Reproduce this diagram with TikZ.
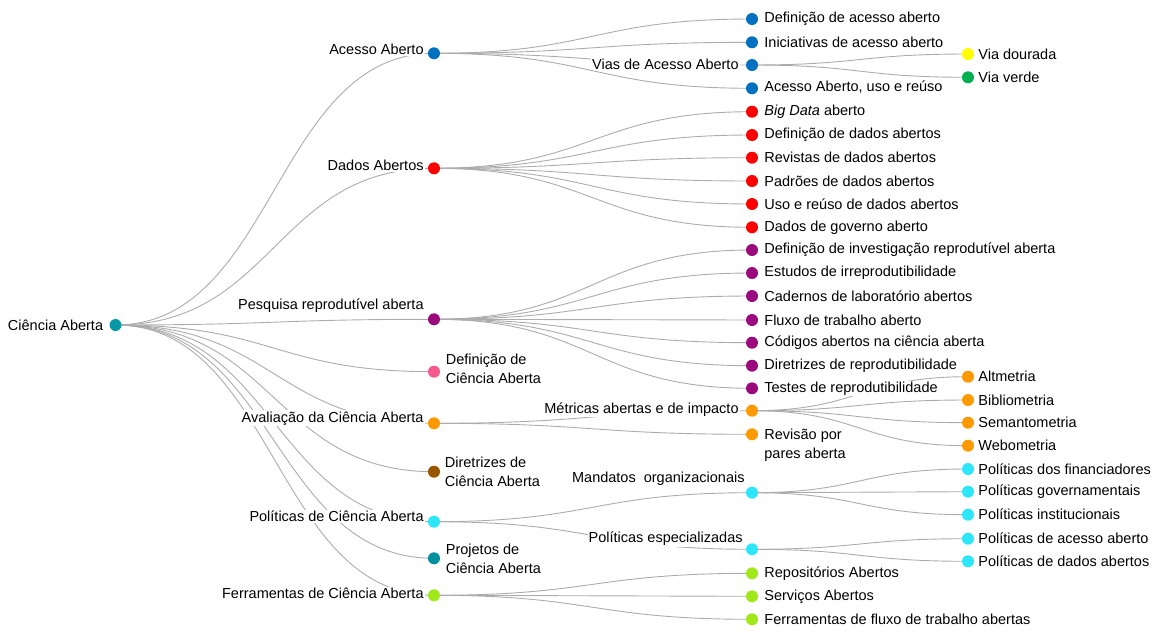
\documentclass[tikz,border=0pt]{standalone}
\usepackage{fontspec}
\setmainfont{Liberation Sans}
\usetikzlibrary{positioning,calc,backgrounds}

\definecolor{cRaiz}{HTML}{0A97A5}
\definecolor{cAcesso}{HTML}{0070C0}
\definecolor{cDados}{HTML}{FF0000}
\definecolor{cPesq}{HTML}{9B0A7D}
\definecolor{cDef}{HTML}{F5588A}
\definecolor{cAval}{HTML}{FF9900}
\definecolor{cDir}{HTML}{9A5500}
\definecolor{cPol}{HTML}{2EE6FA}
\definecolor{cProj}{HTML}{00909F}
\definecolor{cFerr}{HTML}{A0E81A}
\definecolor{cOuro}{HTML}{FFFF00}
\definecolor{cVerde}{HTML}{00B050}

\begin{document}
\begin{tikzpicture}[x=1pt, y=-1pt,
    ponto/.style = {circle, minimum size=12pt, inner sep=0pt},
    texto/.style = {fill=white, inner sep=1pt, align=left, font=\fontsize{14.5}{19}\selectfont},
    ramo/.style = {gray!65, line width=0.9pt,
        to path={let \p1=(\tikztostart), \p2=(\tikztotarget), \n1={0.5*(\x2-\x1)} in
            .. controls ([xshift=\n1]\tikztostart) and ([xshift=-\n1]\tikztotarget) .. (\tikztotarget)}}]
    \useasboundingbox (0,0) rectangle (1160,630);

    % raiz
    \node[ponto, fill=cRaiz] (0) at (115.5,325) {};
    \node[texto, left=5pt of 0] (t0) {Ciência Aberta};

    % primeiro nivel
    \node[ponto, fill=cAcesso] (1) at (434,53.3) {};
    \node[ponto, fill=cDados] (2) at (434,168.3) {};
    \node[ponto, fill=cPesq] (3) at (434,319.3) {};
    \node[ponto, fill=cDef] (4) at (434,371.7) {};
    \node[ponto, fill=cAval] (5) at (434,423.3) {};
    \node[ponto, fill=cDir] (6) at (434,471.7) {};
    \node[ponto, fill=cPol] (7) at (434,521.7) {};
    \node[ponto, fill=cProj] (8) at (434,558.3) {};
    \node[ponto, fill=cFerr] (9) at (434,595.3) {};

    \node[texto, left=3pt of 1, yshift=4pt] (t1) {Acesso Aberto};
    \node[texto, left=3pt of 2, yshift=2.5pt] (t2) {Dados Abertos};
    \node[texto, left=3pt of 3, yshift=14pt] (t3) {Pesquisa reprodutível aberta};
    \node[texto, right=4.5pt of 4, yshift=3pt] (t4) {Definição de\\Ciência Aberta};
    \node[texto, left=3pt of 5, yshift=5pt] (t5) {Avaliação da Ciência Aberta};
    \node[texto, right=3.5pt of 6] (t6) {Diretrizes de\\Ciência Aberta};
    \node[texto, left=3pt of 7, yshift=5pt] (t7) {Políticas de Ciência Aberta};
    \node[texto, right=4.5pt of 8, yshift=-1pt] (t8) {Projetos de\\Ciência Aberta};
    \node[texto, left=3pt of 9, yshift=2pt] (t9) {Ferramentas de Ciência Aberta};

    % acesso aberto
    \node[ponto, fill=cAcesso] (11) at (752,19) {};
    \node[ponto, fill=cAcesso] (12) at (752,42.3) {};
    \node[ponto, fill=cAcesso] (13) at (752,65) {};
    \node[ponto, fill=cAcesso] (14) at (752,88.3) {};
    \node[ponto, fill=cOuro] (131) at (968,54) {};
    \node[ponto, fill=cVerde] (132) at (968,77.3) {};

    \node[texto, right=5pt of 11] (t11) {Definição de acesso aberto};
    \node[texto, right=5pt of 12] (t12) {Iniciativas de acesso aberto};
    \node[texto, left=6pt of 13, yshift=1pt] (t13) {Vias de Acesso Aberto};
    \node[texto, right=5pt of 14, yshift=1.5pt] (t14) {Acesso Aberto, uso e reúso};
    \node[texto, right=3pt of 131] (t131) {Via dourada};
    \node[texto, right=3pt of 132] (t132) {Via verde};

    % dados abertos
    \node[ponto, fill=cDados] (21) at (752,111.7) {};
    \node[ponto, fill=cDados] (22) at (752,135) {};
    \node[ponto, fill=cDados] (23) at (752,157.7) {};
    \node[ponto, fill=cDados] (24) at (752,181) {};
    \node[ponto, fill=cDados] (25) at (752,204) {};
    \node[ponto, fill=cDados] (26) at (752,227.3) {};

    \node[texto, right=5pt of 21] (t21) {\textit{Big Data} aberto};
    \node[texto, right=5pt of 22] (t22) {Definição de dados abertos};
    \node[texto, right=5pt of 23] (t23) {Revistas de dados abertos};
    \node[texto, right=5pt of 24] (t24) {Padrões de dados abertos};
    \node[texto, right=5pt of 25] (t25) {Uso e reúso de dados abertos};
    \node[texto, right=5pt of 26] (t26) {Dados de governo aberto};

    % pesquisa reprodutivel
    \node[ponto, fill=cPesq] (31) at (752,250) {};
    \node[ponto, fill=cPesq] (32) at (752,273) {};
    \node[ponto, fill=cPesq] (33) at (752,296) {};
    \node[ponto, fill=cPesq] (34) at (752,320) {};
    \node[ponto, fill=cPesq] (35) at (752,342.7) {};
    \node[ponto, fill=cPesq] (36) at (752,365.7) {};
    \node[ponto, fill=cPesq] (37) at (752,388.3) {};

    \node[texto, right=5pt of 31] (t31) {Definição de investigação reprodutível aberta};
    \node[texto, right=5pt of 32] (t32) {Estudos de irreprodutibilidade};
    \node[texto, right=5pt of 33] (t33) {Cadernos de laboratório abertos};
    \node[texto, right=5pt of 34] (t34) {Fluxo de trabalho aberto};
    \node[texto, right=5pt of 35] (t35) {Códigos abertos na ciência aberta};
    \node[texto, right=5pt of 36] (t36) {Diretrizes de reprodutibilidade};
    \node[texto, right=5pt of 37] (t37) {Testes de reprodutibilidade};

    % avaliacao
    \node[ponto, fill=cAval] (51) at (752,410.7) {};
    \node[ponto, fill=cAval] (52) at (752,434.3) {};
    \node[ponto, fill=cAval] (511) at (968,376.7) {};
    \node[ponto, fill=cAval] (512) at (968,400) {};
    \node[ponto, fill=cAval] (513) at (968,422.7) {};
    \node[ponto, fill=cAval] (514) at (968,445.7) {};

    \node[texto, left=6pt of 51, yshift=1.5pt] (t51) {Métricas abertas e de impacto};
    \node[texto, right=5pt of 52, yshift=-10.5pt] (t52) {Revisão por\\pares aberta};
    \node[texto, right=3pt of 511] (t511) {Altmetria};
    \node[texto, right=3pt of 512] (t512) {Bibliometria};
    \node[texto, right=3pt of 513] (t513) {Semantometria};
    \node[texto, right=3pt of 514] (t514) {Webometria};

    % politicas
    \node[ponto, fill=cPol] (71) at (752,492.7) {};
    \node[ponto, fill=cPol] (72) at (752,549.3) {};
    \node[ponto, fill=cPol] (711) at (968,469) {};
    \node[ponto, fill=cPol] (712) at (968,491.7) {};
    \node[ponto, fill=cPol] (713) at (968,514.7) {};
    \node[ponto, fill=cPol] (721) at (968,538.7) {};
    \node[ponto, fill=cPol] (722) at (968,561.3) {};

    \node[texto, left=0pt of 71, yshift=13.5pt] (t71) {Mandatos\ \ organizacionais};
    \node[texto, left=2pt of 72, yshift=10.5pt] (t72) {Políticas especializadas};
    \node[texto, right=3pt of 711] (t711) {Políticas dos financiadores};
    \node[texto, right=3pt of 712] (t712) {Políticas governamentais};
    \node[texto, right=3pt of 713] (t713) {Políticas institucionais};
    \node[texto, right=3pt of 721] (t721) {Políticas de acesso aberto};
    \node[texto, right=3pt of 722] (t722) {Políticas de dados abertos};

    % ferramentas
    \node[ponto, fill=cFerr] (91) at (752,573.3) {};
    \node[ponto, fill=cFerr] (92) at (752,596.3) {};
    \node[ponto, fill=cFerr] (93) at (752,619.3) {};

    \node[texto, right=5pt of 91] (t91) {Repositórios Abertos};
    \node[texto, right=5pt of 92] (t92) {Serviços Abertos};
    \node[texto, right=5pt of 93] (t93) {Ferramentas de fluxo de trabalho abertas};

    \begin{scope}[on background layer]
    \draw[ramo] (0.center) to (1.center);
    \draw[ramo] (0.center) to (2.center);
    \draw[ramo] (0.center) to (3.center);
    \draw[ramo] (0.center) to (4.center);
    \draw[ramo] (0.center) to (5.center);
    \draw[ramo] (0.center) to (6.center);
    \draw[ramo] (0.center) to (7.center);
    \draw[ramo] (0.center) to (8.center);
    \draw[ramo] (0.center) to (9.center);

    \draw[ramo] (1.center) to (11.center);
    \draw[ramo] (1.center) to (12.center);
    \draw[ramo] (1.center) to (13.center);
    \draw[ramo] (1.center) to (14.center);
    \draw[ramo] (13.center) to (131.center);
    \draw[ramo] (13.center) to (132.center);

    \draw[ramo] (2.center) to (21.center);
    \draw[ramo] (2.center) to (22.center);
    \draw[ramo] (2.center) to (23.center);
    \draw[ramo] (2.center) to (24.center);
    \draw[ramo] (2.center) to (25.center);
    \draw[ramo] (2.center) to (26.center);

    \draw[ramo] (3.center) to (31.center);
    \draw[ramo] (3.center) to (32.center);
    \draw[ramo] (3.center) to (33.center);
    \draw[ramo] (3.center) to (34.center);
    \draw[ramo] (3.center) to (35.center);
    \draw[ramo] (3.center) to (36.center);
    \draw[ramo] (3.center) to (37.center);

    \draw[ramo] (5.center) to (51.center);
    \draw[ramo] (5.center) to (52.center);
    \draw[ramo] (51.center) to (511.center);
    \draw[ramo] (51.center) to (512.center);
    \draw[ramo] (51.center) to (513.center);
    \draw[ramo] (51.center) to (514.center);

    \draw[ramo] (7.center) to (71.center);
    \draw[ramo] (7.center) to (72.center);
    \draw[ramo] (71.center) to (711.center);
    \draw[ramo] (71.center) to (712.center);
    \draw[ramo] (71.center) to (713.center);
    \draw[ramo] (72.center) to (721.center);
    \draw[ramo] (72.center) to (722.center);

    \draw[ramo] (9.center) to (91.center);
    \draw[ramo] (9.center) to (92.center);
    \draw[ramo] (9.center) to (93.center);
    \end{scope}
\end{tikzpicture}
\end{document}
